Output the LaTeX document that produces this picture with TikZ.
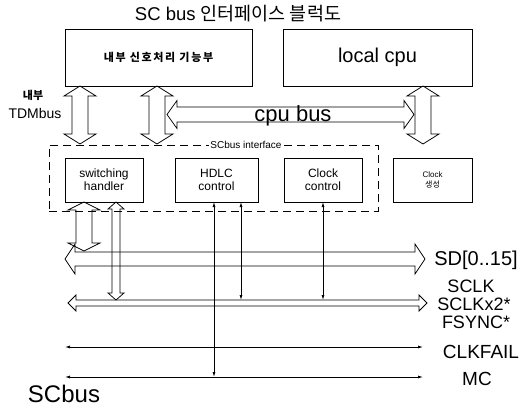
\documentclass[tikz,border=0pt]{standalone}
\usepackage{fontspec}
\setmainfont{Liberation Sans}
\newfontfamily\kr{Noto Sans CJK KR}
\usetikzlibrary{calc,arrows.meta}

% hollow double-headed arrow: #1=A, #2=B, #3=shaft half width, #4=head half width, #5=head length
\newcommand\hollowarrow[5]{%
  \draw[hollow] (#1)
   -- ($(#1)!#5!(#2)!#4!90:(#2)$)
   -- ($(#1)!#5!(#2)!#3!90:(#2)$)
   -- ($(#2)!#5!(#1)!#3!-90:(#1)$)
   -- ($(#2)!#5!(#1)!#4!-90:(#1)$)
   -- (#2)
   -- ($(#2)!#5!(#1)!#4!90:(#1)$)
   -- ($(#2)!#5!(#1)!#3!90:(#1)$)
   -- ($(#1)!#5!(#2)!#3!-90:(#2)$)
   -- ($(#1)!#5!(#2)!#4!-90:(#2)$)
   -- cycle;}

\begin{document}
\begin{tikzpicture}[x=1pt,y=-1pt,
  box/.style={draw,line width=0.8pt,inner sep=0pt,align=center},
  hollow/.style={draw,line width=0.75pt,line join=miter},
  sig/.style={line width=0.75pt,{Latex[length=5pt,width=3pt]}-{Latex[length=5pt,width=3pt]}},
  lbl/.style={font=\fontsize{18}{18}\selectfont,inner sep=0pt,text height=13pt,text depth=0pt}]
\fill[white] (0,0) rectangle (522,409);
\useasboundingbox (0,0) rectangle (522,409);

\node[inner sep=0pt] (title) at (238,14) {\fontsize{18.5}{18.5}\selectfont SC bus {\kr 인터페이스 블럭도}};

\node[box,minimum width=187pt,minimum height=57pt] (inner) at (158.5,57.5)
  {\kr\bfseries\fontsize{11}{11}\selectfont\addfontfeature{LetterSpace=15}내부 신호처리 기능부};
\node[box,minimum width=189pt,minimum height=57pt] (cpu) at (377.5,57.5)
  {\fontsize{20}{20}\selectfont local cpu};

\node[draw,dash pattern=on 8pt off 5pt,line width=0.7pt,minimum width=329pt,minimum height=66pt,inner sep=0pt] (scif) at (213.5,178) {};
\node[fill=white,inner sep=1pt,font=\fontsize{10}{10}\selectfont] (sciflbl) at (246,145) {SCbus interface};

\node[box,minimum width=78pt,minimum height=44pt,font=\fontsize{12}{13}\selectfont] (sw) at (104,180) {switching\\handler};
\node[box,minimum width=83pt,minimum height=44pt,font=\fontsize{12}{13}\selectfont] (hdlc) at (216.5,180) {HDLC\\control};
\node[box,minimum width=78pt,minimum height=44pt,font=\fontsize{12}{13}\selectfont] (cc) at (323,180) {Clock\\control};
\node[box,minimum width=79pt,minimum height=44pt,font=\fontsize{8}{10}\selectfont] (cg) at (432.5,180) {Clock\\{\kr 생성}};

\node[inner sep=0pt,font=\kr\bfseries\fontsize{11}{11}\selectfont] (lnb) at (33,95) {내부};
\node[inner sep=0pt,font=\fontsize{14}{14}\selectfont] (ltdm) at (35,113) {TDMbus};
\node[inner sep=0pt,anchor=base,font=\fontsize{22}{22}\selectfont] (cpubus) at (293,122) {cpu bus};

% vertical hollow arrows above interface
\coordinate (a1t) at (80,86);  \coordinate (a1b) at (80,144);
\coordinate (a2t) at (157,86); \coordinate (a2b) at (157,144);
\coordinate (a3t) at (423,86); \coordinate (a3b) at (423,144);
\hollowarrow{a1t}{a1b}{8pt}{16pt}{10pt}
\hollowarrow{a2t}{a2b}{8pt}{16pt}{10pt}
\hollowarrow{a3t}{a3b}{8pt}{16pt}{10pt}
% cpu bus
\coordinate (cbL) at (167,114.5); \coordinate (cbR) at (414,114.5);
\hollowarrow{cbL}{cbR}{7.5pt}{14pt}{10pt}

% SD bus
\coordinate (sdL) at (65,259); \coordinate (sdR) at (425,259);
\hollowarrow{sdL}{sdR}{7pt}{15pt}{10pt}
% switching handler to SD
\coordinate (swA) at (84,202); \coordinate (swB) at (84,251);
\hollowarrow{swA}{swB}{8pt}{16pt}{8pt}
% switching handler to SCLK bus
\coordinate (swC) at (116,202); \coordinate (swD) at (116,300);
\hollowarrow{swC}{swD}{4pt}{8pt}{7pt}
% SCLK bus
\coordinate (skL) at (68,303); \coordinate (skR) at (427,303);
\hollowarrow{skL}{skR}{3pt}{8pt}{8pt}

% CLKFAIL and MC lines
\coordinate (cfL) at (65,347); \coordinate (cfR) at (423,347);
\coordinate (mcL) at (65,377); \coordinate (mcR) at (423,377);
\draw[sig] (cfL) -- (cfR);
\draw[sig] (mcL) -- (mcR);

% vertical signal lines
\coordinate (v1t) at (214,202); \coordinate (v1b) at (214,377);
\coordinate (v2t) at (241,202); \coordinate (v2b) at (241,300);
\coordinate (v3t) at (323,202); \coordinate (v3b) at (323,300);
\draw[sig] (v1t) -- (v1b);
\draw[sig] (v2t) -- (v2b);
\draw[sig] (v3t) -- (v3b);

% right labels
\node[lbl,font=\fontsize{20}{20}\selectfont,text height=14pt,text depth=4pt] (lsd) at (476,260) {SD[0..15]};
\node[lbl] (lsclk) at (471,286) {SCLK};
\node[lbl] (lsclk2) at (474,304) {SCLKx2*};
\node[lbl] (lfs) at (476,322) {FSYNC*};
\node[lbl,font=\fontsize{19}{19}\selectfont] (lcf) at (481,352) {CLKFAIL};
\node[lbl,font=\fontsize{19}{19}\selectfont] (lmc) at (477,379) {MC};

\node[inner sep=0pt,anchor=base,text depth=0pt,font=\fontsize{24}{24}\selectfont] (scbus) at (64,402) {SCbus};
\end{tikzpicture}
\end{document}
